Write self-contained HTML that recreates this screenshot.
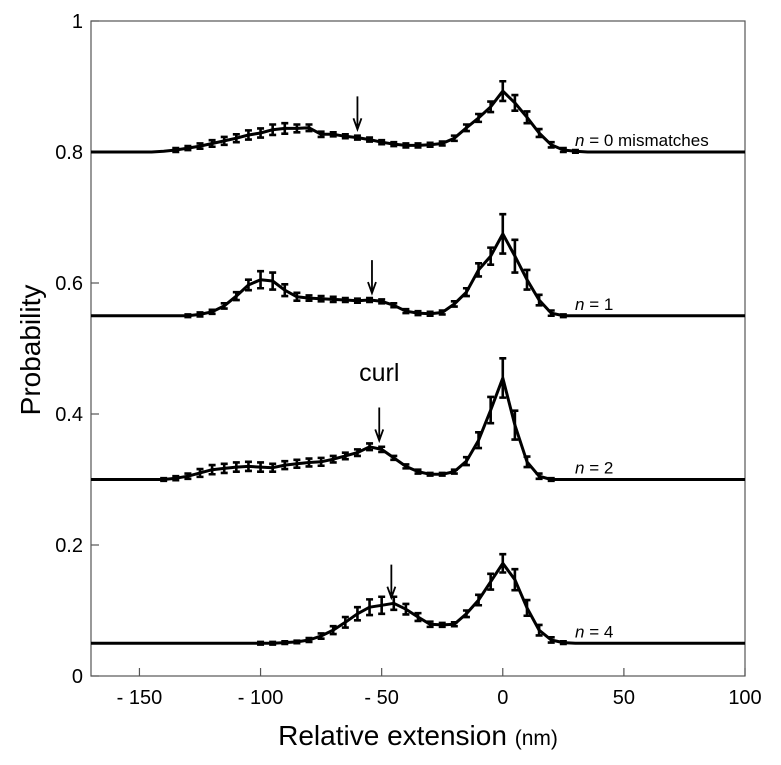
<!DOCTYPE html>
<html><head><meta charset="utf-8"><style>
html,body{margin:0;padding:0;background:#fff;}
svg text{font-family:"Liberation Sans",Arial,sans-serif;fill:#000;}
</style></head><body>
<svg id="chart" width="781" height="760" xmlns="http://www.w3.org/2000/svg">
<g id="axes"></g>
<g id="series"></g>
<g id="annot"></g>
</svg>
<script>
const xs = [-170,-165,-160,-155,-150,-145,-140,-135,-130,-125,-120,-115,-110,-105,-100,-95,-90,-85,-80,-75,-70,-65,-60,-55,-50,-45,-40,-35,-30,-25,-20,-15,-10,-5,0,5,10,15,20,25,30,35,40,45,50,55,60,65,70,75,80,85,90,95,100];
const seriesN0 = [.8,.8,.8,.8,.8,.8,.801,.803,.806,.809,.813,.817,.821,.826,.829,.834,.836,.836,.837,.827,.827,.824,.822,.819,.815,.812,.810,.810,.811,.813,.821,.837,.852,.869,.893,.875,.853,.829,.811,.803,.801,.8,.8,.8,.8,.8,.8,.8,.8,.8,.8,.8,.8,.8,.8];
const seriesN1 = [.55,.55,.55,.55,.55,.55,.55,.55,.55,.552,.556,.565,.58,.597,.605,.603,.589,.579,.577,.576,.575,.574,.573,.574,.572,.566,.557,.554,.553,.555,.568,.586,.62,.641,.675,.641,.605,.574,.554,.55,.55,.55,.55,.55,.55,.55,.55,.55,.55,.55,.55,.55,.55,.55,.55];
const seriesN2 = [.3,.3,.3,.3,.3,.3,.3,.302,.305,.31,.315,.317,.319,.32,.319,.318,.322,.324,.326,.327,.331,.336,.341,.35,.346,.333,.32,.312,.308,.308,.312,.328,.36,.406,.455,.383,.327,.305,.3,.3,.3,.3,.3,.3,.3,.3,.3,.3,.3,.3,.3,.3,.3,.3,.3];
const seriesN4 = [.05,.05,.05,.05,.05,.05,.05,.05,.05,.05,.05,.05,.05,.05,.05,.05,.051,.052,.055,.061,.07,.082,.095,.105,.108,.111,.102,.09,.079,.078,.079,.095,.116,.144,.172,.147,.104,.07,.055,.051,.05,.05,.05,.05,.05,.05,.05,.05,.05,.05,.05,.05,.05,.05,.05];
const errN0 = [0,0,0,0,0,0,0,.003,.003,.004,.005,.006,.006,.007,.007,.008,.008,.006,.005,.004,.003,.003,.003,.003,.003,.003,.003,.003,.003,.003,.004,.005,.006,.008,.015,.012,.009,.006,.004,.003,.002,0,0,0,0,0,0,0,0,0,0,0,0,0,0];
const errN1 = [0,0,0,0,0,0,0,0,.002,.003,.003,.004,.006,.008,.013,.013,.009,.006,.004,.004,.004,.003,.003,.003,.003,.003,.003,.003,.003,.003,.004,.006,.01,.013,.03,.025,.015,.008,.004,.002,0,0,0,0,0,0,0,0,0,0,0,0,0,0,0];
const errN2 = [0,0,0,0,0,0,.002,.003,.004,.006,.007,.007,.007,.007,.007,.006,.006,.006,.006,.006,.005,.005,.005,.005,.004,.003,.003,.003,.002,.002,.003,.006,.012,.02,.03,.022,.008,.004,.002,0,0,0,0,0,0,0,0,0,0,0,0,0,0,0,0];
const errN4 = [0,0,0,0,0,0,0,0,0,0,0,0,0,0,.002,.002,.002,.002,.003,.004,.006,.008,.01,.012,.013,.01,.008,.006,.004,.003,.003,.005,.008,.012,.014,.016,.012,.008,.004,.002,0,0,0,0,0,0,0,0,0,0,0,0,0,0,0];
const xTicks = [-150,-100,-50,0,50,100];
const xTickLabels = ["- 150","- 100","- 50","0","50","100"];
const yTicks = [0,0.2,0.4,0.6,0.8,1];
const yTickLabels = ["0","0.2","0.4","0.6","0.8","1"];
const seriesLabels = ["n = 0 mismatches","n = 1","n = 2","n = 4"];
const arrowX = [-60,-54,-51,-46];
const arrowBase = [0.83,0.58,0.355,0.115];

const NS="http://www.w3.org/2000/svg";
const X0=91,X1=745,Y0=676,Y1=21;
function sx(v){return X0+(v-(-170))/(100-(-170))*(X1-X0);}
function sy(v){return Y0-(v-0)/(1-0)*(Y0-Y1);}
function mk(tag,attrs,parent){const e=document.createElementNS(NS,tag);for(const k in attrs)e.setAttribute(k,attrs[k]);parent.appendChild(e);return e;}
const axes=document.getElementById('axes'),ser=document.getElementById('series'),ann=document.getElementById('annot');

let frame=mk('rect',{x:X0,y:Y1,width:X1-X0,height:Y0-Y1,fill:'none',stroke:'#555','stroke-width':1.2},axes);


xTicks.forEach((t,i)=>{
  const l=mk('line',{x1:sx(t),x2:sx(t),y1:Y0,y2:Y0-8,stroke:'#555','stroke-width':1.2},axes);
  
  
  const tx=mk('text',{x:sx(t),y:Y0+28,'text-anchor':'middle','font-size':20},axes);
  tx.textContent=xTickLabels[i];
  
  
});
yTicks.forEach((t,i)=>{
  const l=mk('line',{x1:X0,x2:X0+8,y1:sy(t),y2:sy(t),stroke:'#555','stroke-width':1.2},axes);
  
  
  const tx=mk('text',{x:X0-8,y:sy(t)+7,'text-anchor':'end','font-size':20},axes);
  tx.textContent=yTickLabels[i];
  
  
});
const xt=mk('text',{x:418,y:745,'text-anchor':'middle','font-size':28},axes);
xt.innerHTML='Relative extension <tspan font-size="21">(nm)</tspan>';


const yt=mk('text',{x:0,y:0,'text-anchor':'middle','font-size':28,transform:'translate(40,350) rotate(-90)'},axes);
yt.textContent='Probability';



const allS=[seriesN0,seriesN1,seriesN2,seriesN4],allE=[errN0,errN1,errN2,errN4];
allS.forEach((vals,si)=>{
  const g=mk('g',{},ser);
  
  
  const d=vals.map((v,i)=>(i?'L':'M')+sx(xs[i]).toFixed(1)+','+sy(v).toFixed(1)).join('');
  const p=mk('path',{d:d,fill:'none',stroke:'#000','stroke-width':3,'stroke-linejoin':'round'},g);
  
  
  vals.forEach((v,i)=>{
    const e=allE[si][i]; if(!e) return;
    const x=sx(xs[i]),ya=sy(v+e),yb=sy(v-e);
    const b=mk('path',{d:`M${x-3.5},${ya}H${x+3.5}M${x},${ya}V${yb}M${x-3.5},${yb}H${x+3.5}`,stroke:'#000','stroke-width':2.6,fill:'none'},g);
    
    
  });
  const base=vals[vals.length-1];
  const lab=mk('text',{x:575,y:sy(base)-6,'font-size':17},ann);
  const parts=seriesLabels[si].split(' ');
  lab.innerHTML='<tspan font-style="italic">'+parts[0]+'</tspan> '+parts.slice(1).join(' ');
  
  
  const ax=sx(arrowX[si]),ay=sy(arrowBase[si]);
  const ar=mk('path',{d:`M${ax},${ay-36}V${ay-6}M${ax-4},${ay-14}L${ax},${ay-3}L${ax+4},${ay-14}`,stroke:'#000','stroke-width':1.8,fill:'none'},ann);
  
  
});
const curl=mk('text',{x:sx(arrowX[2]),y:381,'text-anchor':'middle','font-size':25},ann);
curl.textContent='curl';


</script>
</body></html>
